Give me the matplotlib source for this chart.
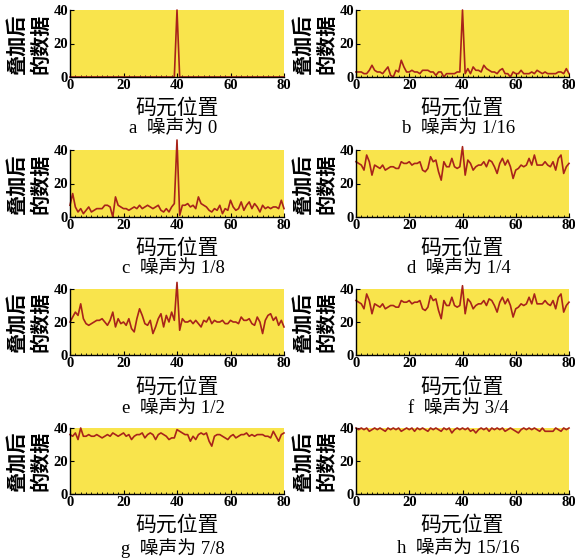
import numpy as np
import matplotlib
matplotlib.use("Agg")
import matplotlib.pyplot as plt
from matplotlib.ticker import MultipleLocator

# 码元位置 0..80, 每个子图一条叠加后的曲线
x = np.arange(81)

noise_0 = [0] * 40 + [40] + [0] * 40
noise_1_16 = [3, 3, 3, 2, 2, 4, 7, 4, 3, 3,
              2, 4, 6, 1, 0, 4, 3, 10, 6, 3,
              3, 4, 3, 3, 2, 4, 4, 4, 3, 3,
              1, 3, 3, 0, 2, 2, 2, 2, 3, 3,
              40, 2, 5, 2, 6, 4, 4, 3, 7, 5,
              4, 3, 3, 2, 4, 5, 2, 2, 0, 3,
              2, 2, 4, 2, 2, 2, 3, 2, 4, 3,
              2, 3, 2, 2, 2, 2, 3, 3, 2, 5,
              2]
noise_1_8 = [7, 14, 6, 3, 5, 2, 4, 6, 3, 4,
             5, 5, 5, 7, 7, 6, 0, 12, 7, 6,
             5, 5, 4, 5, 6, 5, 7, 5, 6, 7,
             6, 5, 6, 7, 4, 3, 5, 3, 6, 8,
             46, 1, 7, 7, 8, 6, 7, 5, 12, 8,
             7, 6, 4, 3, 5, 4, 7, 2, 5, 4,
             10, 6, 4, 5, 9, 4, 7, 9, 5, 8,
             6, 3, 7, 5, 6, 5, 6, 6, 5, 10,
             5]
noise_1_4 = [33, 32, 31, 28, 37, 33, 25, 31, 30, 29,
             31, 28, 29, 30, 30, 29, 29, 33, 32, 32,
             33, 31, 32, 32, 33, 28, 27, 29, 36, 33,
             34, 27, 22, 33, 30, 30, 35, 30, 29, 30,
             42, 25, 34, 32, 28, 30, 31, 31, 33, 30,
             34, 33, 30, 26, 32, 35, 31, 34, 30, 23,
             28, 29, 31, 30, 31, 35, 31, 37, 31, 31,
             31, 33, 31, 30, 33, 28, 35, 37, 26, 30,
             32]
noise_1_2 = [20, 23, 26, 24, 31, 22, 19, 18, 19, 20,
             21, 21, 22, 20, 18, 21, 26, 17, 22, 19,
             20, 18, 22, 16, 14, 22, 28, 24, 19, 18,
             21, 13, 17, 22, 25, 17, 24, 20, 26, 21,
             44, 15, 22, 20, 20, 21, 19, 21, 19, 17,
             21, 20, 23, 19, 21, 20, 20, 21, 19, 19,
             21, 20, 20, 19, 23, 21, 21, 22, 19, 18,
             23, 20, 13, 21, 24, 25, 21, 23, 18, 21,
             17]
noise_3_4 = list(noise_1_4)
noise_7_8 = [36, 35, 37, 33, 40, 35, 35, 36, 35, 35,
             36, 35, 34, 35, 36, 35, 37, 36, 35, 36,
             37, 35, 36, 33, 35, 36, 36, 37, 34, 36,
             37, 36, 33, 36, 37, 36, 35, 33, 34, 34,
             39, 38, 37, 36, 36, 32, 35, 33, 36, 37,
             36, 37, 32, 29, 35, 36, 36, 35, 34, 33,
             35, 36, 34, 35, 36, 36, 37, 35, 36, 35,
             36, 36, 36, 35, 35, 34, 38, 35, 32, 36,
             37]
noise_15_16 = [40, 39, 40, 39, 40, 38, 39, 40, 39, 40,
               39, 38, 40, 39, 40, 39, 40, 38, 39, 40,
               39, 40, 38, 40, 39, 40, 39, 38, 40, 39,
               40, 39, 38, 40, 39, 40, 37, 39, 40, 39,
               40, 39, 40, 38, 39, 37, 39, 40, 39, 40,
               38, 40, 39, 40, 39, 40, 38, 39, 40, 39,
               38, 37, 39, 40, 39, 40, 39, 40, 39, 38,
               40, 38, 38, 38, 38, 40, 39, 38, 40, 39,
               40]

series = [noise_0, noise_1_16, noise_1_8, noise_1_4,
          noise_1_2, noise_3_4, noise_7_8, noise_15_16]
letters = ["a", "b", "c", "d", "e", "f", "g", "h"]
levels = ["0", "1/16", "1/8", "1/4", "1/2", "3/4", "7/8", "15/16"]

W, H = 575, 558
fig = plt.figure(figsize=(W / 100, H / 100), dpi=100)

cjk = ["Noto Sans CJK SC", "DejaVu Sans"]
mixed = ["Liberation Serif", "Noto Sans CJK SC"]
yellow = "#f9e44c"
red = "#a8231a"

# 像素位置: (left, right), (top, bottom)
cols = [(70, 284), (356, 569)]
rows = [(10, 77), (150, 217), (289, 355), (428, 494)]
xlab_y = [108, 248, 387, 525]
cap_y = [128, 268, 408, 548]

for i, y in enumerate(series):
    r, c = divmod(i, 2)
    (l, rr), (t, b) = cols[c], rows[r]
    ax = fig.add_axes([l / W, 1 - b / H, (rr - l) / W, (b - t) / H])
    ax.set_facecolor(yellow)
    ax.plot(x, y, color=red, lw=1.2, clip_on=False)
    ax.set_xlim(0, 80)
    ax.set_ylim(0, 40)
    ax.set_xticks([0, 20, 40, 60, 80])
    ax.set_yticks([0, 20, 40])
    ax.xaxis.set_minor_locator(MultipleLocator(2))
    ax.tick_params(direction="in", length=3, width=0.8, pad=1.5)
    ax.tick_params(which="minor", direction="in", length=1.5, width=0.6)
    for lab in ax.get_xticklabels() + ax.get_yticklabels():
        lab.set_fontfamily("Liberation Serif")
        lab.set_fontweight("bold")
        lab.set_fontsize(10.5)
    ax.spines["top"].set_visible(False)
    ax.spines["right"].set_visible(False)
    ax.spines["left"].set_linewidth(1.0)
    ax.spines["bottom"].set_linewidth(1.0)

    cx = (l + rr) / 2
    fig.text((l - 42) / W, 1 - (t + b) / 2 / H, "叠加后\n的数据", rotation=90,
             ha="center", va="center", family=cjk, fontsize=14.5, fontweight="bold",
             linespacing=1.15)
    fig.text(cx / W, 1 - xlab_y[r] / H, "码元位置", ha="center", va="center",
             family=cjk, fontsize=15)
    fig.text((cx - 4) / W, 1 - cap_y[r] / H, letters[i] + "  噪声为 " + levels[i],
             ha="center", va="center", family=mixed, fontsize=13.5)

fig.savefig("out.png", dpi=100)
